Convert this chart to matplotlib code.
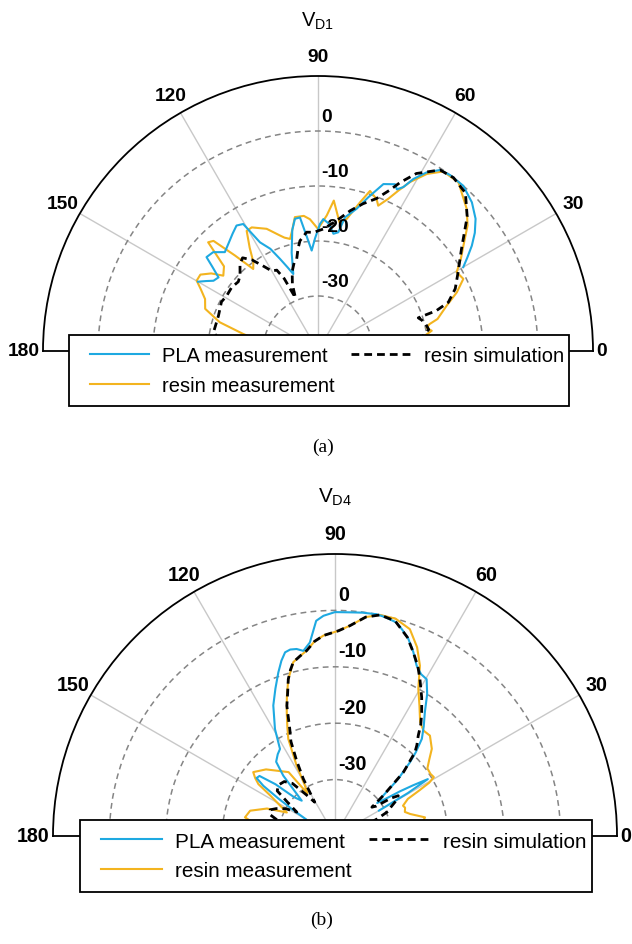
import numpy as np
import matplotlib.pyplot as plt
from matplotlib.patches import Rectangle

plt.rcParams['font.family'] = ['Liberation Sans', 'DejaVu Sans']
plt.rcParams['mathtext.fontset'] = 'custom'
plt.rcParams['mathtext.rm'] = 'Liberation Sans'

# angle in degrees, normalised gain in dB
# (a) V_D1
a_sim_deg = [0, 4, 8, 11, 14, 16.5, 18.3, 18.8, 20.5, 24.4, 29.3, 35.4, 42, 47, 52, 56, 61, 64, 66, 69,
             73, 77, 82, 87.5, 92, 95.5, 99.3, 101, 103, 105, 108, 111, 113, 115, 117, 120, 123, 126, 129, 132,
             136, 139, 143.6, 148.8, 153, 160.5, 169.9, 175, 180]
a_sim_db = [-26, -23, -20.8, -19.5, -19.8, -20.3, -20.8, -17.3, -14.7, -12.6, -10.8, -8.0, -3.5, -0.7, 0.0, -0.3, -3.1, -5.9, -8.0, -10.3,
            -12.0, -13.8, -16.1, -17.8, -18.4, -18.3, -19.7, -21.0, -22.8, -23.3, -24.8, -27.0, -29.5, -25.5, -23.5, -23.2, -21.5, -19.5, -18.2, -18.8,
            -20.3, -20.8, -20.5, -20.6, -20.3, -20.8, -20.7, -22.5, -25]

a_pla_deg = [30, 32, 34.4, 37, 40, 44, 48.7, 53, 56, 58.7, 61, 62.5, 64, 65.2, 68.6, 71.9, 74.8, 78.6, 80.3, 82.5,
             85, 87.7, 89.1, 91.5, 93.6, 96, 97.7, 99.9, 102, 105, 107.8, 110, 112.4, 115, 118.1, 120.5, 123, 126, 129.5, 133.3,
             136.7, 139.9, 141.5, 143.5, 146.1, 148, 150]
a_pla_db = [-9.5, -8.0, -6.1, -4.3, -2.6, -1.1, 0.0, 0.0, -0.3, -2.0, -4.25, -6.4, -7.3, -6.6, -7.4, -10.6, -13.2, -15.2, -18.1, -18.5,
            -16.8, -16.0, -16.9, -19.5, -21.7, -18.5, -15.5, -15.6, -17.5, -21.5, -25.3, -23.8, -21.9, -19.5, -17.6, -13.2, -12.8, -13.6, -14.5, -15.3,
            -13.8, -13.5, -15.5, -17.5, -17.1, -16.0, -14.8]

a_res_deg = [0, 4, 8, 10.1, 12, 13.5, 15, 19.4, 22.9, 26.4, 29.6, 33, 36, 40, 43.7, 50.2, 55.1, 58.4, 61.4, 63.4,
             65.2, 67.5, 68.9, 72, 74.2, 77.7, 80.5, 84, 86.3, 90, 93.5, 96, 99.8, 102, 104, 106.5, 108.2, 112.8, 118.2, 120.7,
             123.5, 126, 128.3, 131, 133.5, 135.3, 138, 141.5, 144, 147, 149.9, 152, 155.3, 159.5, 163.7, 167.2, 170, 175, 180]
a_res_db = [-26, -23, -20.5, -19.0, -19.8, -19.2, -17.5, -15.2, -12.6, -10.5, -11.0, -9.0, -7.3, -4.5, -2.6, -0.1, -0.2, -2.2, -5.0, -7.4,
            -9.5, -11.4, -10.4, -9.4, -11.9, -15.4, -16.3, -12.5, -15.3, -17.8, -16.0, -15.3, -15.3, -17.5, -19.0, -18.5, -17.9, -15.9, -14.5, -14.6,
            -17.5, -20.0, -21.0, -17.0, -12.4, -11.9, -17.0, -18.0, -16.0, -14.5, -14.5, -15.8, -17.4, -18.1, -21.4, -26.1, -29, -33, -36]

# (b) V_D4
b_sim_deg = [0, 10, 18, 22, 25, 27, 30, 32.5, 34, 36, 38, 40, 43, 46.3, 48, 50.3, 52.5, 55, 58, 61.6,
             64, 66.9, 70, 74.4, 78.5, 82, 85.9, 89, 93.3, 96, 98.7, 101, 103.5, 105, 106.6, 108.5, 110.3, 113, 115, 117,
             119, 121, 125, 129, 133, 138, 142, 145, 148, 151, 155, 158, 162, 166, 170, 180]
b_sim_db = [-40, -38, -35, -32, -29.5, -29, -27.5, -26.7, -28, -31, -31.7, -28.8, -23.4, -19.5, -18.3, -16.9, -15, -13.2, -11, -8.35,
            -6.5, -4.6, -2.5, -0.4, 0, -0.8, -2.6, -3.6, -4.4, -5.3, -6.75, -7.5, -8.3, -9.5, -11.0, -13.5, -15.4, -19.5, -21.5, -25,
            -28.4, -33, -31, -28, -26.8, -26.5, -27, -30, -32, -30, -28.5, -27.6, -28, -30, -31, -36]

b_pla_deg = [30, 30.5, 31.5, 33, 34.5, 36, 38, 40, 42, 44.5, 46, 48.2, 51, 54, 57, 59.7, 62, 64.4, 67, 69.6,
             72, 74, 77, 79.4, 83, 86, 90, 93, 95, 97.4, 99.7, 101.6, 103.5, 105.2, 107, 109.1, 112, 115.3, 119.3, 122.3,
             125, 128.4, 130.6, 133.3, 136.5, 139, 141.5, 143.5, 145, 146.5, 148, 150]
b_pla_db = [-31, -25, -20.7, -23.5, -26, -28.5, -30.5, -28.8, -25, -21.4, -19.4, -16.9, -15, -12.9, -10, -7.8, -7.5, -6.5, -4.5, -2.7,
            -1.5, -0.6, -0.2, 0, -0.1, -0.25, -0.3, -0.9, -1.7, -5.4, -6.7, -6.15, -6.0, -6.25, -7.5, -9.3, -11.8, -14.4, -18.25, -21.75,
            -22.3, -23.2, -25.9, -31.4, -30, -26, -22.9, -22.7, -24.5, -28, -31, -34]

b_res_deg = [0, 4, 8, 11.7, 16.3, 19, 22, 24, 27, 28.4, 29.5, 30.8, 33, 36.2, 39, 42, 46.6, 50, 53.2, 57,
             60.5, 63.5, 66.5, 70.1, 74.4, 78.5, 82, 85.9, 89, 93.3, 96, 98.7, 101, 103.5, 106.6, 109, 111.3, 113.5, 115.7, 118.6,
             120.8, 123, 126, 131, 136, 142, 144, 145.9, 148, 151.7, 154, 158, 163.4, 168.3, 172, 176, 180]
b_res_db = [-32, -28, -24.5, -23.7, -26.1, -26.9, -26.6, -26.8, -25.5, -23, -20.8, -19.6, -19.8, -19.7, -18.5, -16.9, -15.5, -15.6, -14.8, -12.5,
            -10.0, -6.25, -3.5, -1.0, 0, 0, -0.8, -2.6, -3.6, -4.4, -5.3, -6.75, -7.5, -8.3, -11.0, -13.8, -16.45, -18.8, -20.9, -25.8,
            -29.6, -31, -26, -24.7, -23, -21.6, -22.5, -23.6, -26.5, -29.3, -30.5, -27, -24.3, -23.7, -26, -30, -34]

spoke_deg = [30, 60, 90, 120, 150]
ring_db = [-30, -20, -10, 0]
r_min, r_max = -40, 10
labels = ['PLA measurement', 'resin measurement', 'resin simulation']

W, H = 632, 945
BLUE = '#1ea9e1'
ORANGE = '#f3b41f'

fig = plt.figure(figsize=(W / 100, H / 100), dpi=100)


def panel(cx, cy, R, title, pla, res, sim):
    s = R / 275.0
    # half disc sits in x [0,1], y [0.25,0.75] of the square polar box
    ax = fig.add_axes([(cx - R) / W, 1 - (cy + 0.5 * R) / H, 2 * R / W, 2 * R / H],
                      projection='polar')
    ax.set_thetamin(0)
    ax.set_thetamax(180)
    ax.set_rlim(r_min, r_max)
    ax.set_xticks(np.deg2rad(spoke_deg))
    ax.set_yticks(ring_db)
    ax.xaxis.set_major_formatter(plt.NullFormatter())
    ax.yaxis.set_major_formatter(plt.NullFormatter())
    ax.tick_params(length=0)
    ax.grid(axis='x', color='#c8c8c8', lw=1.0, ls='-')
    ax.grid(axis='y', color='#858585', lw=1.1, ls=(0, (3.8, 2.8)))
    for sp in ax.spines.values():
        sp.set_color('black')
        sp.set_linewidth(1.3)

    l_res, = ax.plot(np.deg2rad(res[0]), res[1], color=ORANGE, lw=1.5)
    l_pla, = ax.plot(np.deg2rad(pla[0]), pla[1], color=BLUE, lw=1.5)
    l_sim, = ax.plot(np.deg2rad(sim[0]), sim[1], color='black', lw=2.0, ls=(0, (2.8, 1.8)))

    fs = 13.8 * s
    rr = r_max + (r_max - r_min) * 0.072
    for a in spoke_deg:
        ax.text(np.deg2rad(a), rr, str(a), ha='center', va='center',
                fontsize=fs, fontweight='bold')
    ax.annotate('0', xy=(0, r_max), xytext=(2.5 * s, 0), textcoords='offset points',
                ha='left', va='center', fontsize=fs, fontweight='bold', annotation_clip=False)
    ax.annotate('180', xy=(np.pi, r_max), xytext=(-2.5 * s, 0), textcoords='offset points',
                ha='right', va='center', fontsize=fs, fontweight='bold', annotation_clip=False)
    for v in ring_db:
        ax.annotate(str(v), xy=(np.pi / 2, v), xytext=(2.3 * s, 7.5 * s), textcoords='offset points',
                    ha='left', va='baseline', fontsize=fs, fontweight='bold', annotation_clip=False)

    fig.text(cx / W, 1 - (cy - 331 * s) / H, title, ha='center', va='center', fontsize=14.5 * s)

    # legend box over the lower part of the half disc
    x0, x1 = cx - 249 * s, cx + 251 * s
    y0, y1 = cy - 16 * s, cy + 55 * s
    fig.add_artist(Rectangle((x0 / W, 1 - y1 / H), (x1 - x0) / W, (y1 - y0) / H,
                             transform=fig.transFigure, facecolor='white',
                             edgecolor='black', lw=1.3, zorder=3))
    leg = fig.legend([l_pla, l_res, l_sim], labels, loc='center left',
                     bbox_to_anchor=((cx - 228 * s) / W, 1 - (cy + 19.5 * s) / H),
                     bbox_transform=fig.transFigure, ncol=2, frameon=False,
                     borderpad=0, borderaxespad=0, fontsize=14.5 * s,
                     handlelength=2.93, handletextpad=0.65, columnspacing=0.83,
                     labelspacing=0.53)
    leg.set_zorder(6)
    return ax


panel(318, 352, 275, r'$\mathrm{V}_{\mathrm{D1}}$',
      (a_pla_deg, a_pla_db), (a_res_deg, a_res_db), (a_sim_deg, a_sim_db))
panel(335, 837, 282, r'$\mathrm{V}_{\mathrm{D4}}$',
      (b_pla_deg, b_pla_db), (b_res_deg, b_res_db), (b_sim_deg, b_sim_db))

fig.text(323 / W, 1 - 447 / H, '(a)', family='Liberation Serif', fontsize=14,
         ha='center', va='center')
fig.text(322 / W, 1 - 920 / H, '(b)', family='Liberation Serif', fontsize=14,
         ha='center', va='center')

fig.savefig('out.png', dpi=100)
